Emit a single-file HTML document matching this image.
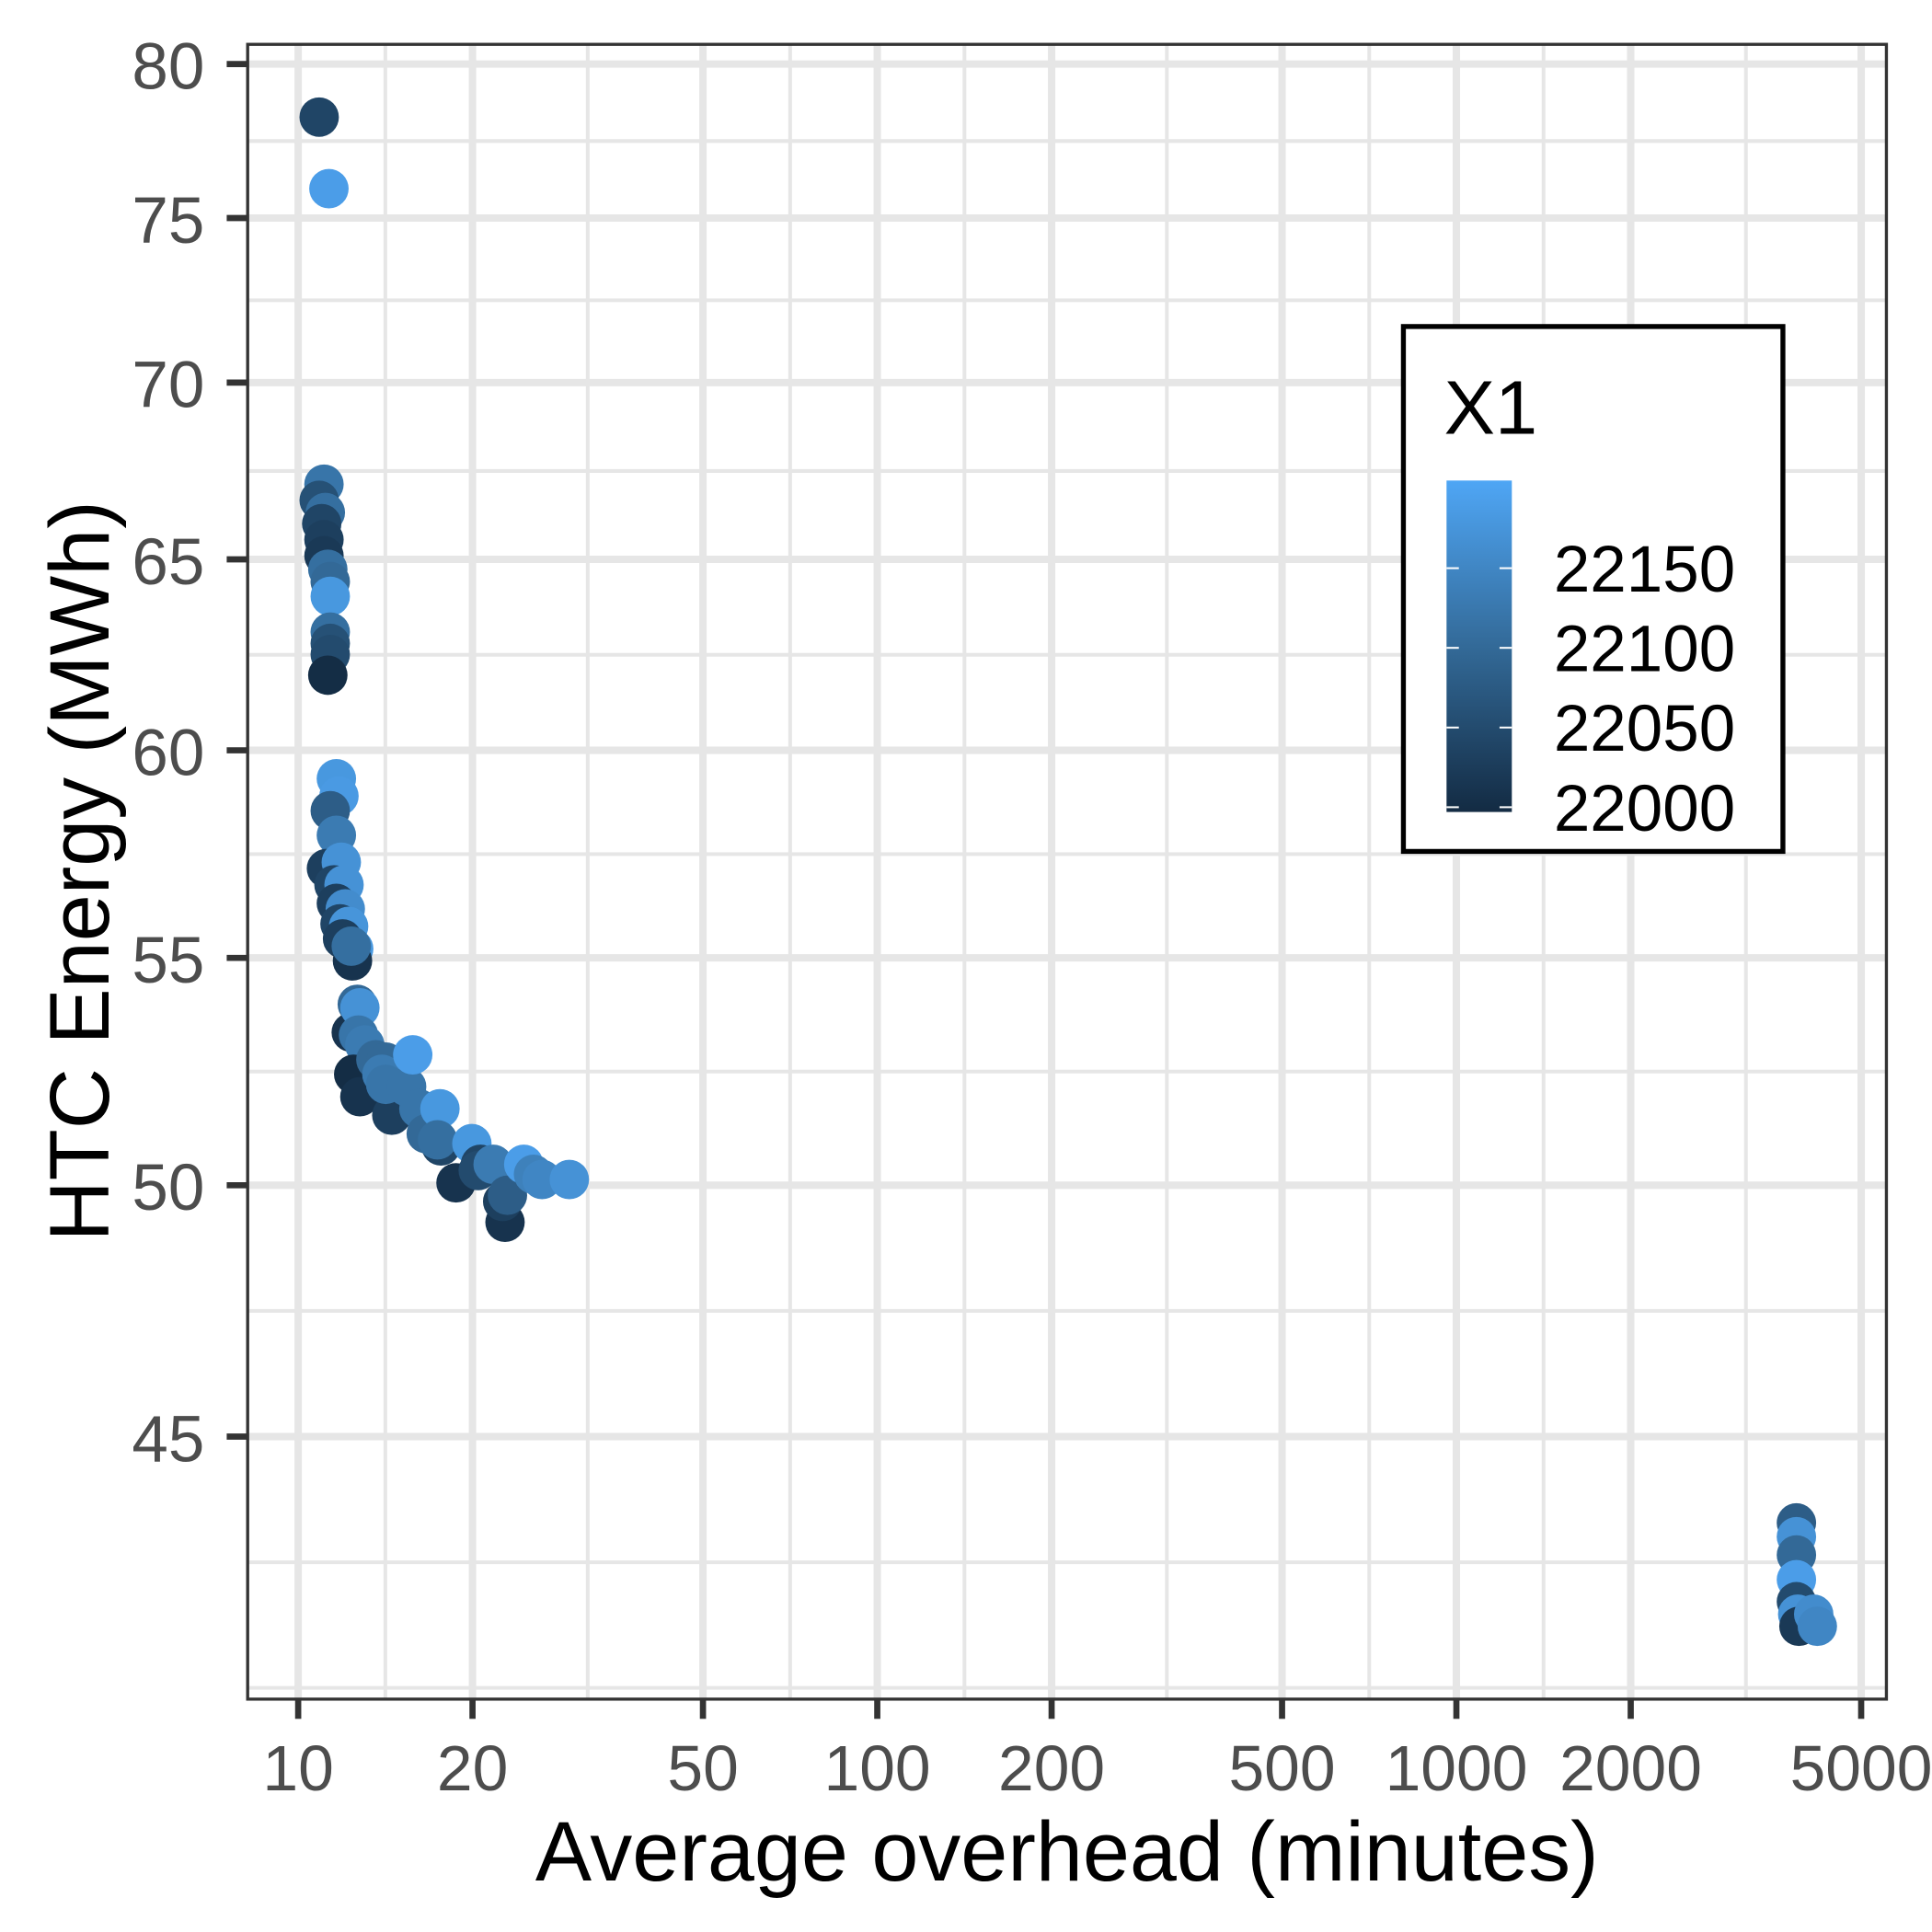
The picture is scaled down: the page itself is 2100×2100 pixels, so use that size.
<!DOCTYPE html>
<html><head><meta charset="utf-8"><style>
html,body{margin:0;padding:0;background:#fff}
svg{display:block}
text{font-family:"Liberation Sans",Arial,sans-serif}
</style></head><body>
<svg id="chart" width="2100" height="2100" viewBox="0 0 1568 1568" xmlns="http://www.w3.org/2000/svg">
<rect x="0" y="0" width="1568" height="1568" fill="#fff"/>
<g id="grid"></g>
<g id="points"></g>
<rect x="201" y="36" width="1330" height="1343" fill="none" stroke="#333" stroke-width="2.5"/>
<g id="axes"></g>
<text x="866" y="1526" font-size="68.5" text-anchor="middle" fill="#000">Average overhead (minutes)</text>
<text transform="translate(88,707) rotate(-90)" font-size="68.5" text-anchor="middle" fill="#000">HTC Energy (MWh)</text>
<g id="legend">
<rect x="1139" y="265" width="308" height="426" fill="#fff" stroke="#000" stroke-width="4"/>
<text x="1172" y="352" font-size="62" fill="#000">X1</text>
<defs><linearGradient id="cg" x1="0" y1="1" x2="0" y2="0"><stop offset="0" stop-color="#132B43"/><stop offset="0.5" stop-color="#336A98"/><stop offset="1" stop-color="#4FA6F5"/></linearGradient></defs>
<rect x="1174" y="390" width="53" height="269" fill="url(#cg)"/>
</g>
</svg>
<script>
const xTicks = [10, 20, 50, 100, 200, 500, 1000, 2000, 5000];
const xTickLabels = ["10", "20", "50", "100", "200", "500", "1000", "2000", "5000"];
const yTicks = [45, 50, 55, 60, 65, 70, 75, 80];
const yTickLabels = ["45", "50", "55", "60", "65", "70", "75", "80"];
const legendBreaks = [22000, 22050, 22100, 22150];
const legendLabels = ["22000", "22050", "22100", "22150"];
const ptX = [10.87,11.30,11.08,10.87,11.14,10.98,11.08,11.08,11.25,11.36,11.36,11.36,11.36,11.36,11.25,
11.64,11.76,11.36,11.64,11.19,11.87,11.53,12.00,11.64,12.06,11.81,12.22,11.93,12.47,12.41,12.35,
12.35,12.65,12.78,12.71,13.03,12.47,12.78,13.62,14.16,13.95,14.51,14.16,15.39,15.77,16.16,17.40,16.64,17.57,17.65,17.40,18.73,19.95,20.64,20.46,21.71,22.76,22.55,22.98,24.52,25.49,26.37,29.39,
3865,3865,3865,3865,3865,3885,3904,4140,4200];
const ptY = [78.24,75.93,67.08,66.63,66.29,65.98,65.54,65.10,64.73,64.40,64.00,63.05,62.75,62.46,61.92,
59.29,58.86,58.50,57.90,57.10,57.25,56.71,56.71,56.27,56.14,55.79,55.73,55.44,55.21,54.93,55.27,
53.31,53.94,53.86,53.25,53.03,52.38,51.89,52.70,52.65,52.38,51.49,52.16,52.11,52.81,51.63,50.96,51.09,51.63,50.83,50.96,50.05,50.88,50.44,50.31,50.44,49.23,49.66,49.79,50.44,50.23,50.12,50.12,
43.40,43.15,42.82,42.38,41.99,41.77,41.56,41.77,41.56];
const ptZ = [22040,22190,22120,22060,22110,22040,22030,22020,22110,22100,22180,22110,22060,22050,22000,
22180,22185,22080,22130,22030,22170,22040,22170,22030,22160,22040,22175,22030,22180,22010,22110,
22010,22100,22170,22120,22130,22000,22010,22100,22100,22130,22030,22120,22120,22190,22120,22050,22100,22180,22040,22110,22010,22180,22040,22050,22130,22010,22030,22080,22190,22140,22150,22170,
22080,22170,22100,22190,22050,22170,22020,22160,22150];

const NS = "http://www.w3.org/2000/svg";
const PL = 201, PR = 1531, PT = 36, PB = 1379;
function xScale(v){ return 242 + Math.log10(v/10) * 470; }
function yScale(v){ return 52 + Math.log(80/v) * 1936; }
const zMin = 21997, zMax = 22205;
function zColor(z){
  const t = Math.max(0, Math.min(1, (z - zMin)/(zMax - zMin)));
  const a=[19,43,67], m=[51,106,152], b=[79,166,245];
  let c;
  if (t < 0.5) { const u=t/0.5; c=a.map((v,i)=>Math.round(v+(m[i]-v)*u)); }
  else { const u=(t-0.5)/0.5; c=m.map((v,i)=>Math.round(v+(b[i]-v)*u)); }
  return "rgb(" + c.join(",") + ")";
}
function zScale(z){ return 659 - (z - zMin) * (269/(zMax - zMin)); }
function mk(tag, attrs, parent){
  const el = document.createElementNS(NS, tag);
  for (const k in attrs) el.setAttribute(k, attrs[k]);
  parent.appendChild(el);
  return el;
}
const grid = document.getElementById('grid');
const axes = document.getElementById('axes');
const pts = document.getElementById('points');
const legend = document.getElementById('legend');

const xs = xTicks.map(xScale);
for (let i=0;i<xs.length-1;i++){
  const m=(xs[i]+xs[i+1])/2;
  const l=mk('line',{x1:m,x2:m,y1:PT,y2:PB,stroke:'#e6e6e6','stroke-width':3},grid);
  
  
}
const ys = yTicks.map(yScale);
const yMinor = [];
for (let i=0;i<ys.length-1;i++) yMinor.push((ys[i]+ys[i+1])/2);
const half = (ys[0]-ys[1])/2;
yMinor.push(ys[0]+half, ys[0]+2*half, ys[ys.length-1]-half);
yMinor.forEach(m=>{
  if (m<=PT || m>=PB) return;
  const l=mk('line',{x1:PL,x2:PR,y1:m,y2:m,stroke:'#e6e6e6','stroke-width':3},grid);
  
  
});
xTicks.forEach((v,i)=>{
  const x=xScale(v);
  const l=mk('line',{x1:x,x2:x,y1:PT,y2:PB,stroke:'#e6e6e6','stroke-width':6},grid);
  
  
  const t=mk('line',{x1:x,x2:x,y1:PB,y2:PB+16,stroke:'#333','stroke-width':5},axes);
  
  
  const tx=mk('text',{x:x,y:1453,'font-size':52,'text-anchor':'middle',fill:'#4d4d4d'},axes);
  tx.textContent=xTickLabels[i];
  
  
});
yTicks.forEach((v,i)=>{
  const y=yScale(v);
  const l=mk('line',{x1:PL,x2:PR,y1:y,y2:y,stroke:'#e6e6e6','stroke-width':6},grid);
  
  
  const t=mk('line',{x1:PL-17,x2:PL,y1:y,y2:y,stroke:'#333','stroke-width':5},axes);
  
  
  const tx=mk('text',{x:166,y:y+20,'font-size':53,'text-anchor':'end',fill:'#4d4d4d'},axes);
  tx.textContent=yTickLabels[i];
  
  
});
for (let i=0;i<ptX.length;i++){
  const c=mk('circle',{cx:xScale(ptX[i]),cy:yScale(ptY[i]),r:16,fill:zColor(ptZ[i])},pts);
  
  
}
legendBreaks.forEach((v,i)=>{
  const y=zScale(v);
  const a=mk('line',{x1:1174,x2:1184,y1:y,y2:y,stroke:'#fff','stroke-width':1.5},legend);
  
  
  const b=mk('line',{x1:1217,x2:1227,y1:y,y2:y,stroke:'#fff','stroke-width':1.5},legend);
  
  
  const tx=mk('text',{x:1261,y:y+19,'font-size':53,fill:'#000'},legend);
  tx.textContent=legendLabels[i];
  
  
});
</script>
</body></html>
